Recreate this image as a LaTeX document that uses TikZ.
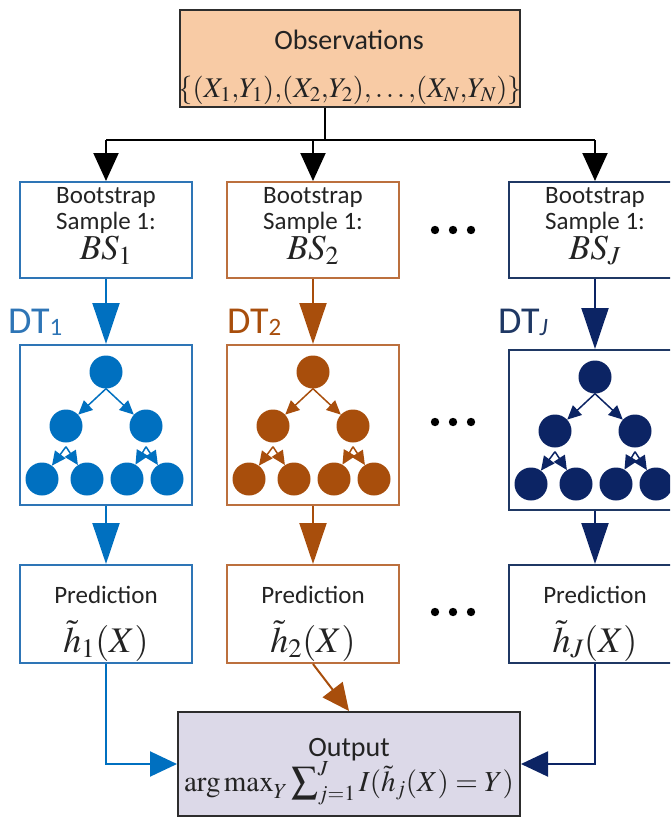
\documentclass[tikz,border=0pt]{standalone}
\usepackage{mathptmx}
\usepackage{graphicx}
\usepackage[no-math]{fontspec}
\setmainfont{Carlito}
\usetikzlibrary{arrows.meta}

\definecolor{cblue}{RGB}{0,112,192}
\definecolor{cbluebox}{RGB}{46,117,182}
\definecolor{cbrown}{RGB}{168,78,12}
\definecolor{cbrownbox}{RGB}{188,112,62}
\definecolor{cnavy}{RGB}{12,36,100}
\definecolor{cnavybox}{RGB}{31,56,100}
\definecolor{obsfill}{RGB}{248,203,165}
\definecolor{outfill}{RGB}{220,217,232}
\definecolor{darkline}{RGB}{45,45,45}
\definecolor{txt}{RGB}{35,35,35}

% a slightly enlarged summation sign with side limits
\newcommand\midsum{\mathop{\raisebox{-1.5pt}{\scalebox{1.3}{$\sum$}}}\nolimits}

% one decision tree: root, two children, four leaves
\newcommand\dtree[4]{%
  \node[tn, fill=#4] (#1r)  at (#2,#3) {};
  \node[tn, fill=#4] (#1a)  at ({#2-40},{#3+54}) {};
  \node[tn, fill=#4] (#1b)  at ({#2+40},{#3+54}) {};
  \node[tn, fill=#4] (#1aa) at ({#2-64},{#3+107}) {};
  \node[tn, fill=#4] (#1ab) at ({#2-19},{#3+107}) {};
  \node[tn, fill=#4] (#1ba) at ({#2+21},{#3+107}) {};
  \node[tn, fill=#4] (#1bb) at ({#2+61},{#3+107}) {};
  \draw[tarrow=#4] (#1r.south) -- (#1a);
  \draw[tarrow=#4] (#1r.south) -- (#1b);
  \draw[tarrow=#4] ([yshift=-4pt]#1a.south) -- (#1aa);
  \draw[tarrow=#4] ([yshift=-4pt]#1a.south) -- (#1ab);
  \draw[tarrow=#4] ([yshift=-4pt]#1b.south) -- (#1ba);
  \draw[tarrow=#4] ([yshift=-4pt]#1b.south) -- (#1bb);
}

\begin{document}
\begin{tikzpicture}[x=1pt,y=-1pt,
  colbox/.style={rectangle, line width=2pt, fill=white, inner sep=0pt, minimum width=172pt},
  lbl/.style={anchor=base, text=txt, font=\fontsize{25}{30}\selectfont, inner sep=0pt},
  mth/.style={anchor=base, text=txt, font=\fontsize{34}{40}\selectfont, inner sep=0pt},
  tn/.style={circle, draw=none, minimum size=33pt, inner sep=0pt},
  tarrow/.style={draw=#1, line width=1.5pt, -{Triangle[length=14pt,width=13pt]}},
  bigarrow/.style={draw=#1, line width=2pt, -{Triangle[length=41pt,width=27pt]}},
  sidearrow/.style={draw=#1, line width=2pt, -{Triangle[length=27pt,width=25pt]}},
  blk/.style={draw=black, line width=2pt},
  blkarrow/.style={blk, -{Triangle[length=28pt,width=25pt]}},
  dtlbl/.style={anchor=base west, inner sep=0pt, font=\fontsize{38}{40}\selectfont}
]
\useasboundingbox (0,0) rectangle (670,819);
\clip (0,0) rectangle (670,819);

% observations
\node[rectangle, draw=darkline, fill=obsfill, line width=2pt, inner sep=0pt,
      minimum width=340pt, minimum height=97pt] (obs) at (350,58.5) {};
\node[lbl, font=\fontsize{28}{30}\selectfont] (obsT) at (349,49) {Observations};
\node[mth, font=\fontsize{28.5}{34}\selectfont] (obsF) at (350,97)
  {$\{(X_1{,}Y_1){,}(X_2{,}Y_2){,}\ldots{,}(X_N{,}Y_N)\}$};

% output
\node[rectangle, draw=darkline, fill=outfill, line width=2pt, inner sep=0pt,
      minimum width=342pt, minimum height=104pt] (out) at (349,764) {};
\node[lbl, font=\fontsize{28}{30}\selectfont] (outT) at (349,756) {Output};
\node[mth, font=\fontsize{29}{34}\selectfont] (outF) at (349,791)
  {$\mathrm{arg\,max}_Y \midsum_{j=1}^{J} I(\tilde{h}_j(X)=Y)$};

% the three columns: bootstrap sample, tree, prediction
\foreach \n/\cx/\ty/\bc/\fc in {1/106/425/cbluebox/cblue, 2/313/425/cbrownbox/cbrown, J/595/430/cnavybox/cnavy}{
  \node[colbox, draw=\bc, minimum height=96pt] (bs\n) at (\cx,230) {};
  \node[lbl] (bs\n a) at (\cx,203) {Bootstrap};
  \node[lbl] (bs\n b) at (\cx,229) {Sample 1:};
  \node[mth, font=\fontsize{35}{38}\selectfont] (bs\n c) at (\cx,259) {$BS_{\n}$};

  \node[colbox, draw=\bc, minimum height=160pt] (dt\n) at (\cx,\ty) {};
  \dtree{t\n}{\cx}{\ty-53}{\fc}

  \node[colbox, draw=\bc, minimum height=98pt] (pr\n) at (\cx,614) {};
  \node[lbl] (pr\n a) at (\cx,603) {Prediction};
  \node[mth, font=\fontsize{36}{40}\selectfont] (pr\n b) at (\cx,652) {$\tilde{h}_{\n}(X)$};

  \draw[bigarrow=\fc] (bs\n.south) -- (dt\n.north);
  \draw[bigarrow=\fc] (dt\n.south) -- (pr\n.north);
}

% tree labels
\node[dtlbl, text=cbluebox] (lbl1) at (8,333) {DT\raisebox{-2pt}{\fontsize{25}{25}\selectfont 1}};
\node[dtlbl, text=cbrown] (lbl2) at (227,333) {DT\raisebox{-2pt}{\fontsize{25}{25}\selectfont 2}};
\node[dtlbl, text=cnavybox] (lblJ) at (498,333) {DT\raisebox{-2pt}{\fontsize{25}{25}\selectfont\itshape J}};

% split from the observations to every bootstrap sample
\coordinate (split) at (325,140);
\draw[blk] (obs.south -| split) -- (split);
\draw[blk] (split -| bs1) -- (split -| bsJ);
\foreach \n in {1,2,J}{
  \draw[blkarrow] (split -| bs\n) -- (bs\n.north);
}

% predictions into the vote
\draw[sidearrow=cblue] (pr1.south) |- (out.west);
\draw[sidearrow=cnavy] (prJ.south) |- (out.east);
\draw[sidearrow=cbrown] (pr2.south) -- (out.north);

% ellipses between columns
\foreach \yy in {230,422,612}{
  \foreach \dx in {-18,0,18}{
    \fill[black] (453+\dx,\yy) circle (4.2);
  }
}
\end{tikzpicture}
\end{document}
